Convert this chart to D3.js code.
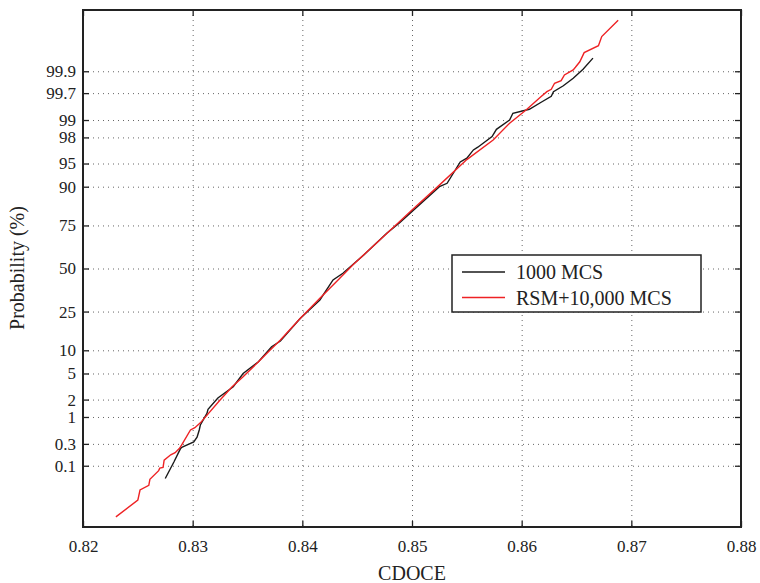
<!DOCTYPE html>
<html>
<head>
<meta charset="utf-8">
<script src="https://cdn.jsdelivr.net/npm/d3@7"></script>
<style>
  body { margin: 0; background: #fff; }
  text { font-family: "Liberation Serif", "Times New Roman", serif; fill: #222; }
</style>
</head>
<body>
<div id="chart"></div>
<script>
// tick values
const xTicks = [0.82, 0.83, 0.84, 0.85, 0.86, 0.87, 0.88];
const probTicks = [0.1, 0.3, 1, 2, 5, 10, 25, 50, 75, 90, 95, 98, 99, 99.7, 99.9];

// 1000 MCS (CDOCE, probability %)
const mcsX = [0.8275, 0.8283, 0.8289, 0.8291, 0.8301, 0.8304, 0.8306, 0.8307, 0.8313, 0.8314,
  0.8323, 0.8337, 0.8346, 0.8360, 0.8372, 0.8380, 0.8398, 0.8416, 0.8428, 0.8437,
  0.8456, 0.8477, 0.8489, 0.8525, 0.8532, 0.8544, 0.8550, 0.8556, 0.8560, 0.8573,
  0.8577, 0.8589, 0.8592, 0.8607, 0.8617, 0.8627, 0.8629, 0.8638, 0.8647, 0.8656, 0.8665];
const mcsP = [0.05, 0.123, 0.242, 0.261, 0.33, 0.41, 0.57, 0.71, 1.16, 1.37,
  2.12, 3.2, 5.0, 7.2, 11.0, 12.8, 21.7, 31.1, 42.9, 47.0,
  58.4, 71.0, 76.5, 90.0, 90.9, 95.25, 95.8, 96.84, 97.13, 98.06,
  98.54, 99.0, 99.25, 99.37, 99.53, 99.65, 99.72, 99.79, 99.856, 99.91, 99.951];

// RSM + 10,000 MCS
const rsmX = [0.8230, 0.8250, 0.8252, 0.8260, 0.8261, 0.8269, 0.8270, 0.8273, 0.8274, 0.8280,
  0.8284, 0.8288, 0.8290, 0.8298, 0.8302, 0.8307, 0.8325, 0.8336, 0.8346, 0.8360,
  0.8370, 0.8380, 0.8398, 0.8416, 0.8431, 0.8446, 0.8477, 0.8500, 0.8522, 0.8550,
  0.8574, 0.8589, 0.8604, 0.8617, 0.8623, 0.8627, 0.8630, 0.8636, 0.8639, 0.8647,
  0.8649, 0.8653, 0.8657, 0.8670, 0.8673, 0.8688];
const rsmP = [0.005, 0.0142, 0.026, 0.034, 0.048, 0.077, 0.088, 0.092, 0.134, 0.176,
  0.195, 0.242, 0.287, 0.57, 0.63, 0.78, 1.97, 3.2, 4.5, 7.2,
  9.9, 13.1, 21.7, 32.0, 41.8, 52.2, 70.8, 82.0, 89.6, 95.6,
  97.8, 98.86, 99.35, 99.635, 99.72, 99.75, 99.815, 99.838, 99.879, 99.907,
  99.919, 99.94, 99.964, 99.976, 99.986, 99.995];

const seriesNames = ["1000 MCS", "RSM+10,000 MCS"];
const seriesColors = ["#1a1a1a", "#ee2224"];

// inverse normal cdf (Acklam)
function probit(p) {
  const a = [-3.969683028665376e+01, 2.209460984245205e+02, -2.759285104469687e+02, 1.383577518672690e+02, -3.066479806614716e+01, 2.506628277459239e+00];
  const b = [-5.447609879822406e+01, 1.615858368580409e+02, -1.556989798598866e+02, 6.680131188771972e+01, -1.328068155288572e+01];
  const c = [-7.784894002430293e-03, -3.223964580411365e-01, -2.400758277161838e+00, -2.549732539343734e+00, 4.374664141464968e+00, 2.938163982698783e+00];
  const d = [7.784695709041462e-03, 3.224671290700398e-01, 2.445134137142996e+00, 3.754408661907416e+00];
  const pl = 0.02425;
  let q, r;
  if (p < pl) {
    q = Math.sqrt(-2 * Math.log(p));
    return (((((c[0]*q+c[1])*q+c[2])*q+c[3])*q+c[4])*q+c[5]) / ((((d[0]*q+d[1])*q+d[2])*q+d[3])*q+1);
  }
  if (p > 1 - pl) {
    q = Math.sqrt(-2 * Math.log(1 - p));
    return -(((((c[0]*q+c[1])*q+c[2])*q+c[3])*q+c[4])*q+c[5]) / ((((d[0]*q+d[1])*q+d[2])*q+d[3])*q+1);
  }
  q = p - 0.5; r = q * q;
  return (((((a[0]*r+a[1])*r+a[2])*r+a[3])*r+a[4])*r+a[5])*q / (((((b[0]*r+b[1])*r+b[2])*r+b[3])*r+b[4])*r+1);
}

const margin = { top: 10, right: 19, bottom: 56, left: 83 },
  width = 760 - margin.left - margin.right,
  height = 583 - margin.top - margin.bottom;

const svg = d3.select("#chart").append("svg")
  .attr("width", 760)
  .attr("height", 583)
  .append("g")
  .attr("transform", "translate(" + margin.left + "," + margin.top + ")");

const x = d3.scaleLinear().domain([0.82, 0.88]).range([0, width]);
const z = d3.scaleLinear().domain([-4.05, 4.05]).range([height, 0]);
const y = p => z(probit(p / 100));
const zTicks = probTicks.map(p => probit(p / 100));

// grid
svg.append("g")
  .attr("class", "grid")
  .call(d3.axisBottom(x).tickValues(xTicks).tickSize(height).tickFormat(""))
  .call(g => g.select(".domain").remove());
svg.append("g")
  .attr("class", "grid")
  .call(d3.axisLeft(z).tickValues(zTicks).tickSize(-width).tickFormat(""))
  .call(g => g.select(".domain").remove());
svg.selectAll(".grid line")
  .attr("stroke", "#666")
  .attr("stroke-width", 1)
  .attr("stroke-dasharray", "1,4");

// series
const line = d3.line().x(d => x(d[0])).y(d => y(d[1]));
const mcsData = mcsX.map((v, i) => [v, mcsP[i]]);
const rsmData = rsmX.map((v, i) => [v, rsmP[i]]);

svg.append("path").datum(mcsData)
  .attr("d", line)
  .attr("fill", "none")
  .attr("stroke", seriesColors[0])
  .attr("stroke-width", 1.4);
svg.append("path").datum(rsmData)
  .attr("d", line)
  .attr("fill", "none")
  .attr("stroke", seriesColors[1])
  .attr("stroke-width", 1.4);

// axes (ticks inward, on all four sides)
svg.append("g")
  .attr("transform", "translate(0," + height + ")")
  .call(d3.axisBottom(x).tickValues(xTicks).tickSizeInner(-6).tickSizeOuter(0).tickPadding(13)
    .tickFormat(d3.format(".2f")));
svg.append("g")
  .call(d3.axisLeft(z).tickValues(zTicks).tickSizeInner(-6).tickSizeOuter(0).tickPadding(7)
    .tickFormat((d, i) => probTicks[i]));
svg.append("g")
  .call(d3.axisTop(x).tickValues(xTicks).tickSizeInner(-6).tickSizeOuter(0).tickFormat(""));
svg.append("g")
  .attr("transform", "translate(" + width + ",0)")
  .call(d3.axisRight(z).tickValues(zTicks).tickSizeInner(-6).tickSizeOuter(0).tickFormat(""));

svg.selectAll(".domain").remove();
svg.selectAll(".tick line:not(.grid .tick line)").attr("stroke", "#222").attr("stroke-width", 1.3);
svg.selectAll(".tick text")
  .style("font-family", "'Liberation Serif', 'Times New Roman', serif")
  .style("font-size", "17px")
  .attr("fill", "#222");

// frame
svg.append("rect")
  .attr("width", width)
  .attr("height", height)
  .attr("fill", "none")
  .attr("stroke", "#222")
  .attr("stroke-width", 2);

// axis labels
svg.append("text")
  .attr("x", x(0.85))
  .attr("y", height + 53)
  .attr("text-anchor", "middle")
  .style("font-size", "20px")
  .text("CDOCE");
svg.append("text")
  .attr("transform", "translate(" + (24 - margin.left) + "," + (268 - margin.top) + ") rotate(-90)")
  .attr("text-anchor", "middle")
  .style("font-size", "20px")
  .text("Probability (%)");

// legend
const lg = svg.append("g").attr("transform", "translate(" + (452 - margin.left) + "," + (255 - margin.top) + ")");
lg.append("rect")
  .attr("width", 249)
  .attr("height", 57)
  .attr("fill", "#fff")
  .attr("stroke", "#222")
  .attr("stroke-width", 1.5);
seriesNames.forEach((name, i) => {
  const yy = 17 + i * 25.5;
  lg.append("line")
    .attr("x1", 10).attr("x2", 53)
    .attr("y1", yy).attr("y2", yy)
    .attr("stroke", seriesColors[i])
    .attr("stroke-width", 1.4);
  lg.append("text")
    .attr("x", 64)
    .attr("y", yy)
    .attr("dy", "0.35em")
    .style("font-size", "20px")
    .text(name);
});
</script>
</body>
</html>
